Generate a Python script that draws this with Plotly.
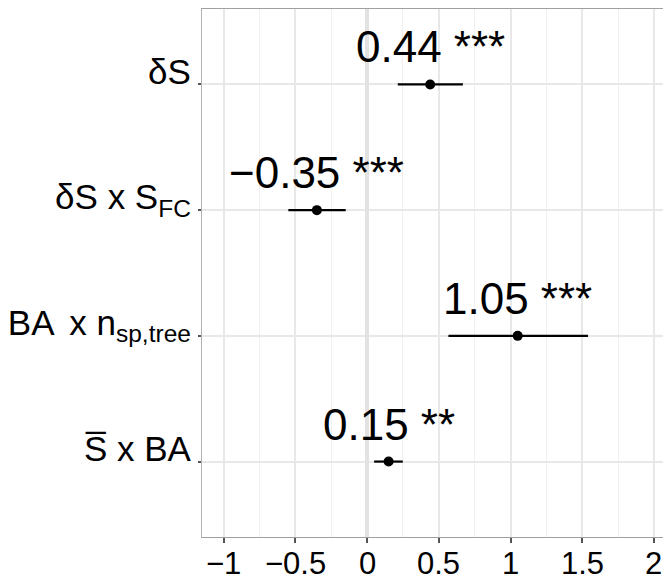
import plotly.graph_objects as go

# Data (top-to-bottom order as displayed)
terms = ["δS", "δS x S<sub>FC</sub>", "BA \u2009x n<sub>sp,tree</sub>", "S\u0305 x BA"]
estimates = [0.44, -0.35, 1.05, 0.15]
ci_low = [0.214, -0.549, 0.567, 0.049]
ci_high = [0.668, -0.149, 1.540, 0.249]
stars = ["***", "***", "***", "**"]
x_ticks = [-1, -0.5, 0, 0.5, 1, 1.5, 2]
x_tick_text = ["\u22121", "\u22120.5", "0", "0.5", "1", "1.5", "2"]

FONT = "Liberation Sans, Arial, sans-serif"

fig = go.Figure()
fig.add_trace(go.Scatter(
    x=estimates,
    y=terms,
    mode="markers",
    marker=dict(color="black", size=10),
    error_x=dict(
        type="data",
        symmetric=False,
        array=[h - e for h, e in zip(ci_high, estimates)],
        arrayminus=[e - l for e, l in zip(estimates, ci_low)],
        color="black",
        thickness=2.2,
        width=0,
    ),
    showlegend=False,
    hoverinfo="skip",
))

# estimate labels
for e, t, s in zip(estimates, terms, stars):
    lab = (f"{e:.2f}".replace("-", "\u2212")) + " " + s
    fig.add_annotation(
        x=e, y=t, text=lab, showarrow=False,
        xanchor="center", yanchor="bottom", yshift=11,
        font=dict(family=FONT, size=44, color="black"),
    )

# x tick labels
for v, txt in zip(x_ticks, x_tick_text):
    fig.add_annotation(
        x=v, xref="x", y=0, yref="paper", text=txt, showarrow=False,
        xanchor="center", yanchor="top", yshift=-7,
        font=dict(family=FONT, size=31, color="black"),
    )

# the page body has an 8px default margin; size the figure to fill the window
fig.update_layout(
    width=663, height=572,
    margin=dict(l=194, r=0, t=1, b=43),
    paper_bgcolor="white", plot_bgcolor="white",
    font=dict(family=FONT, color="black"),
)

fig.update_xaxes(
    automargin=False,
    range=[-1.151, 2.119],
    tickvals=x_ticks, showticklabels=False,
    ticks="outside", ticklen=5, tickwidth=1.5, tickcolor="#555555",
    showline=True, linecolor="#a0a0a0", linewidth=1.2, mirror=True,
    showgrid=True, gridcolor="#e8e8e8", gridwidth=1.5,
    minor=dict(dtick=0.25, tick0=0, showgrid=True, gridcolor="#f0f0f0", gridwidth=1),
    zeroline=True, zerolinecolor="#e2e2e2", zerolinewidth=4,
)

fig.update_yaxes(
    automargin=False,
    categoryorder="array", categoryarray=list(reversed(terms)),
    range=[-0.6, 3.6],
    tickfont=dict(family=FONT, size=35, color="black"),
    ticks="outside", ticklen=3, tickwidth=1.5, tickcolor="#555555",
    showline=True, linecolor="#b3b3b3", linewidth=1.2,
    showgrid=True, gridcolor="#e8e8e8", gridwidth=1.5,
    zeroline=False,
    ticklabelshift=-13, ticklabelstandoff=0,
)

fig.write_html("out.html")
